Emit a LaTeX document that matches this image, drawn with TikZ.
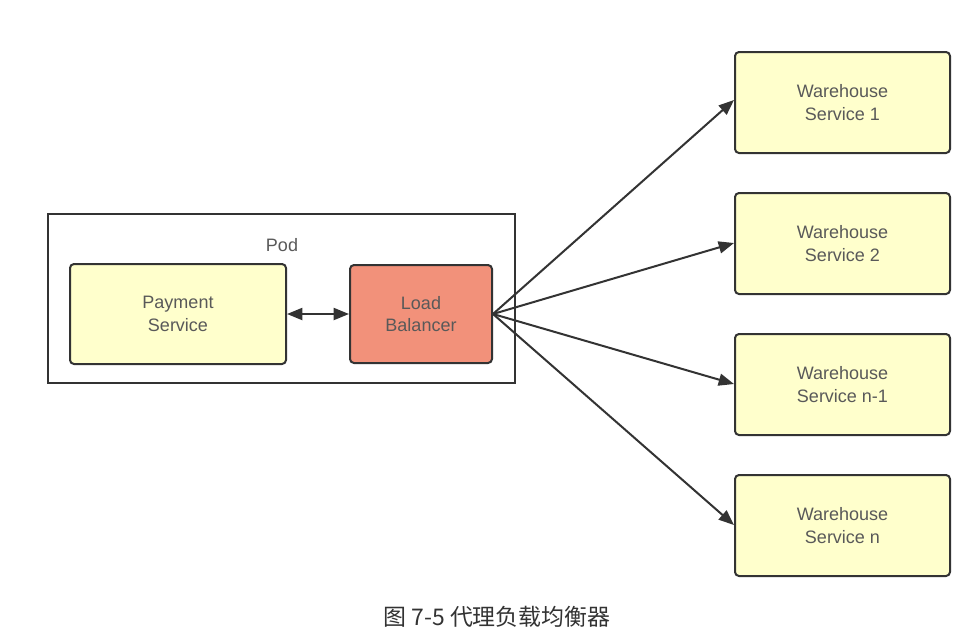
\documentclass[tikz,border=0pt]{standalone}
\usepackage{fontspec}
\setmainfont{Liberation Sans}
\newfontfamily\cjk{Noto Sans CJK SC}
\usetikzlibrary{arrows.meta}
\definecolor{boxyellow}{HTML}{FFFFCC}
\definecolor{lbred}{HTML}{F2917A}
\definecolor{edge}{HTML}{333333}
\definecolor{txt}{HTML}{595959}
\begin{document}
\begin{tikzpicture}[x=0.75pt,y=-0.75pt,
  box/.style={draw=edge,line width=1.5pt,rounded corners=3pt,fill=boxyellow,
    align=center,font=\fontsize{13.5}{17}\selectfont,text=txt,inner sep=0pt},
  tip/.tip={Triangle[length=11.5pt,width=9pt]},
  conn/.style={draw=edge,line width=1.5pt,-tip}]
\useasboundingbox (0,0) rectangle (972,633);
\fill[white] (0,0) rectangle (972,633);
\node[draw=edge,line width=1.5pt,minimum width=467*0.75pt,minimum height=169*0.75pt,inner sep=0pt] (pod) at (281.5,298.5) {};
\node[font=\fontsize{13.5}{16}\selectfont,text=txt] (podl) at (282,245) {Pod};
\node[box,minimum width=216*0.75pt,minimum height=100*0.75pt] (pay) at (178,314) {Payment\\Service};
\node[box,fill=lbred,minimum width=142*0.75pt,minimum height=98*0.75pt] (lb) at (421,314) {Load\\Balancer};
\foreach \i/\y/\t in {1/102.5/Service 1,2/243.5/Service 2,3/384.5/Service n-1,4/525.5/Service n}{
  \node[box,minimum width=215*0.75pt,minimum height=101*0.75pt] (w\i) at (842.5,\y) {Warehouse\\\t};
}
\draw[conn,tip-tip] (pay.east) -- (lb.west);
\coordinate (o) at (lb.east);
\draw[conn] (o) -- (w1.west |- 0,100);
\draw[conn] (o) -- (w2.west |- 0,243);
\draw[conn] (o) -- (w3.west |- 0,384);
\draw[conn] (o) -- (w4.west |- 0,525);
\node[font=\cjk\fontsize{17.2}{20}\selectfont,text=edge] (cap) at (497,617) {图 7-5 代理负载均衡器};
\end{tikzpicture}
\end{document}
